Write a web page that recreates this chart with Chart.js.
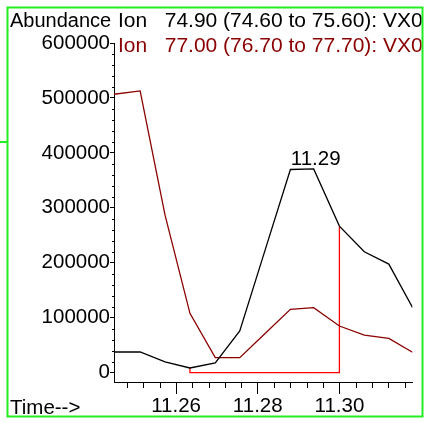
<!DOCTYPE html>
<html>
<head>
<meta charset="utf-8">
<style>
  html, body { margin: 0; padding: 0; background: #ffffff; }
  canvas { display: block; }
</style>
<script src="https://cdn.jsdelivr.net/npm/chart.js@4.4.1/dist/chart.umd.min.js"></script>
</head>
<body>
<canvas id="tic" width="425" height="423"></canvas>
<script>
// Extracted ion chromatograms around 11.29 min
const scanTimes = [11.2448, 11.2512, 11.2573, 11.2634, 11.2696, 11.2756, 11.2818,
                   11.2880, 11.2937, 11.3000, 11.3061, 11.3121, 11.3179];
const ion7490 = [37600, 37600, 19500, 8500, 17600, 75800, 223000,
                 369800, 370900, 266700, 220000, 197600, 118900];
const ion7700 = [506700, 512700, 286700, 108000, 27300, 27300, 71300,
                 115300, 118200, 84900, 68500, 62500, 37100];

// Integration window (scan indices) for the labelled peak
const integStart = 3;
const integEnd = 9;

// Axis ticks
const yTicks = [0, 100000, 200000, 300000, 400000, 500000, 600000];
const xTicks = [11.26, 11.28, 11.30];
const yMinorStep = 20000;
const xMinorStep = 0.004;

const ionLabels = ['Ion   74.90 (74.60 to 75.60): VX0', 'Ion   77.00 (76.70 to 77.70): VX0'];
const ionColors = ['#000000', '#8b0000'];

const FONT = '"Liberation Sans", Arial, sans-serif';
const FSIZE = 20.5;

const toPoints = (vals) => vals.map((v, i) => ({ x: scanTimes[i], y: v }));

const baseline = [
  { x: scanTimes[integStart], y: ion7490[integStart] },
  { x: scanTimes[integStart], y: 0 },
  { x: scanTimes[integEnd], y: 0 },
  { x: scanTimes[integEnd], y: ion7490[integEnd] }
];

const decor = {
  id: 'decor',
  afterDraw(chart) {
    const ctx = chart.ctx;
    const xs = chart.scales.x, ys = chart.scales.y;
    const area = chart.chartArea;
    ctx.save();

    // minor ticks on the y axis
    ctx.strokeStyle = '#000';
    ctx.lineWidth = 1;
    ctx.beginPath();
    for (let v = 0; v <= 600000; v += yMinorStep) {
      if (v % 100000 === 0) continue;
      const py = Math.round(ys.getPixelForValue(v)) + 0.5;
      ctx.moveTo(area.left - 2, py);
      ctx.lineTo(area.left, py);
    }
    // minor ticks on the x axis
    for (let k = 0; ; k++) {
      const v = 11.248 + k * xMinorStep;
      if (v > xs.max + 1e-9) break;
      if (xTicks.some(t => Math.abs(t - v) < 1e-6)) continue;
      const px = Math.round(xs.getPixelForValue(v)) + 0.5;
      ctx.moveTo(px, area.bottom);
      ctx.lineTo(px, area.bottom + 6);
    }
    ctx.stroke();

    // frame
    ctx.strokeStyle = '#22ee22';
    ctx.lineWidth = 2;
    ctx.strokeRect(7.5, 7.5, 415, 409);
    ctx.beginPath();
    ctx.moveTo(0, 142);
    ctx.lineTo(7, 142);
    ctx.stroke();

    // texts
    ctx.textBaseline = 'alphabetic';
    ctx.textAlign = 'left';
    ctx.fillStyle = '#000';
    ctx.font = '20px ' + FONT;
    ctx.fillText('Abundance', 10, 27);
    ctx.font = FSIZE + 'px ' + FONT;
    ctx.fillText('Time-->', 10, 414);

    ctx.save();
    ctx.beginPath();
    ctx.rect(8, 8, 413.5, 408);
    ctx.clip();
    ctx.font = '21px ' + FONT;
    ionLabels.forEach((t, i) => {
      ctx.fillStyle = ionColors[i];
      ctx.fillText(t, 118, 27 + i * 25);
    });
    ctx.restore();

    // retention time of the apex
    let apex = 0;
    ion7490.forEach((v, i) => { if (v > ion7490[apex]) apex = i; });
    ctx.font = FSIZE + 'px ' + FONT;
    ctx.fillStyle = '#000';
    ctx.textAlign = 'center';
    ctx.fillText(scanTimes[apex].toFixed(2), xs.getPixelForValue(scanTimes[apex]) + 2,
                 ys.getPixelForValue(ion7490[apex]) - 4);
    ctx.restore();
  }
};

new Chart(document.getElementById('tic'), {
  type: 'line',
  data: {
    datasets: [
      { data: toPoints(ion7490), borderColor: ionColors[0], borderWidth: 1.3 },
      { data: toPoints(ion7700), borderColor: ionColors[1], borderWidth: 1.3 },
      { data: baseline, borderColor: '#ff0000', borderWidth: 1.3 }
    ]
  },
  options: {
    responsive: false,
    animation: false,
    events: [],
    elements: { point: { radius: 0 }, line: { tension: 0, fill: false } },
    layout: { padding: { top: 43, right: 12.5, left: 0, bottom: 0 } },
    plugins: { legend: { display: false }, tooltip: { enabled: false }, title: { display: false } },
    scales: {
      x: {
        type: 'linear',
        min: scanTimes[0],
        max: scanTimes[scanTimes.length - 1],
        afterBuildTicks: (s) => { s.ticks = xTicks.map(v => ({ value: v })); },
        afterFit: (s) => { s.height = 41; },
        border: { display: true, color: '#000', width: 1 },
        grid: { drawOnChartArea: false, drawTicks: true, tickLength: 12, color: '#000', tickColor: '#000' },
        ticks: {
          color: '#000', font: { family: FONT, size: FSIZE }, padding: 0, maxRotation: 0,
          autoSkip: false, callback: (v) => Number(v).toFixed(2)
        }
      },
      y: {
        type: 'linear',
        min: -17000,
        max: 600000,
        afterBuildTicks: (s) => { s.ticks = yTicks.map(v => ({ value: v })); },
        afterFit: (s) => { s.width = 114; },
        border: { display: true, color: '#000', width: 1 },
        grid: { drawOnChartArea: false, drawTicks: true, tickLength: 4, color: '#000', tickColor: '#000' },
        ticks: {
          color: '#000', font: { family: FONT, size: FSIZE }, padding: 0,
          autoSkip: false, callback: (v) => String(v)
        }
      }
    }
  },
  plugins: [decor]
});
</script>
</body>
</html>
